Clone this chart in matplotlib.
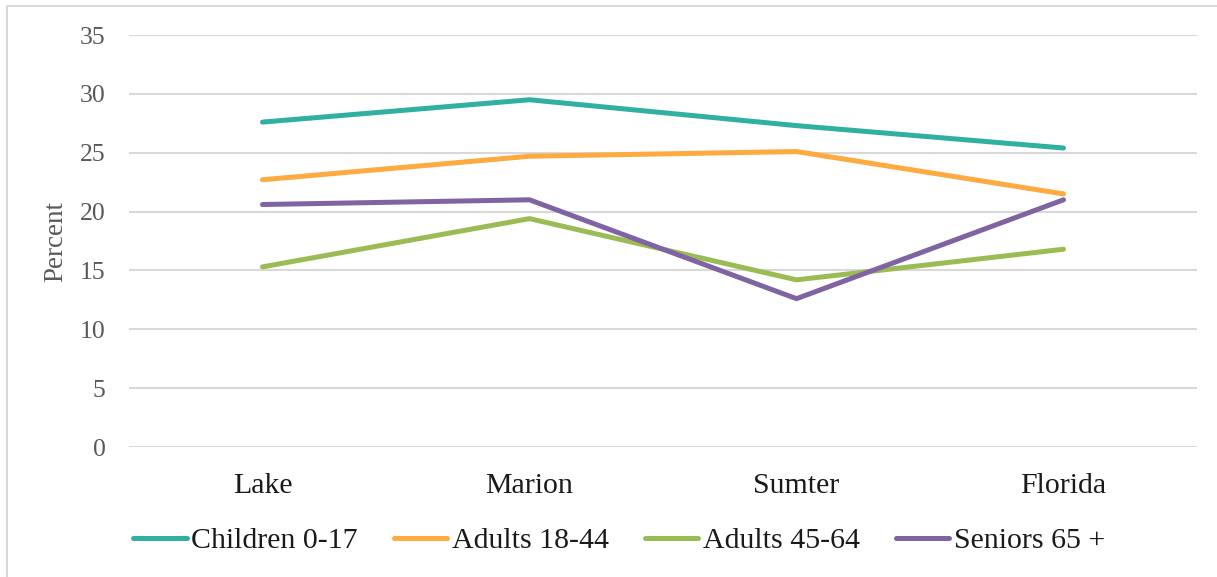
import matplotlib.pyplot as plt
from matplotlib.lines import Line2D

# data
regions = ['Lake', 'Marion', 'Sumter', 'Florida']
children = [27.6, 29.5, 27.3, 25.4]
adults_18_44 = [22.7, 24.7, 25.1, 21.5]
adults_45_64 = [15.3, 19.4, 14.2, 16.8]
seniors = [20.6, 21.0, 12.6, 21.0]

series = [
    ('Children 0-17', children, '#2FB0A1'),
    ('Adults 18-44', adults_18_44, '#FDAA40'),
    ('Adults 45-64', adults_45_64, '#9BBB55'),
    ('Seniors 65 +', seniors, '#8063A1'),
]

plt.rcParams['font.family'] = ['Liberation Serif', 'DejaVu Serif']

fig = plt.figure(figsize=(12.17, 5.77), dpi=100)
ax = fig.add_axes([129 / 1217, 1 - 447 / 577, (1197 - 129) / 1217, 412 / 577])

x = range(len(regions))
for name, vals, col in series:
    ax.plot(x, vals, color=col, lw=3.6, label=name, solid_capstyle='round',
            solid_joinstyle='round')

ax.set_xlim(-0.5, len(regions) - 0.5)
ax.set_ylim(0, 35)
ax.set_yticks(range(0, 36, 5))
ax.set_xticks(list(x))
ax.set_xticklabels(regions, fontsize=21.5, color='#1a1a1a')
ax.tick_params(axis='x', length=0, pad=19)
ax.tick_params(axis='y', length=0, pad=17, labelsize=18.5, labelcolor='#595959')
ax.grid(axis='y', color='#d9d9d9', lw=1.5)
ax.set_axisbelow(True)
for s in ax.spines.values():
    s.set_visible(False)
ax.set_ylabel('Percent', fontsize=19.5, color='#595959', labelpad=8)

fig.legend(loc='center', bbox_to_anchor=(0.5086, 1 - 541 / 577), ncol=4,
           frameon=False, fontsize=21.5, handlelength=1.8, handletextpad=0.15,
           columnspacing=1.2, labelcolor='#1a1a1a')

# chart area border (top and left only are visible)
fig.add_artist(Line2D([7 / 1217, 7 / 1217, 1], [0, 1 - 6 / 577, 1 - 6 / 577],
                      transform=fig.transFigure, color='#d9d9d9', lw=1.5))

plt.savefig('out.png', dpi=100)
